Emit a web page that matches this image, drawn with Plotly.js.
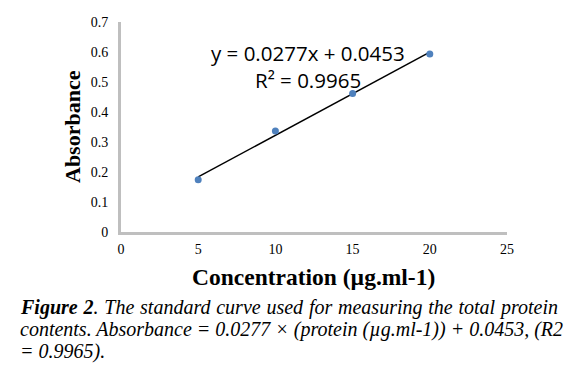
<!DOCTYPE html>
<html>
<head>
<meta charset="utf-8">
<script src="https://cdn.plot.ly/plotly-3.0.1.min.js"></script>
<style>html,body{margin:0;padding:0;background:#fff;}#chart{width:567px;height:371px;}</style>
</head>
<body>
<div id="chart"></div>
<script>
const concentration = [5, 10, 15, 20];
const absorbance = [0.174, 0.337, 0.462, 0.593];
const slope = 0.0277;
const intercept = 0.0453;
const trendX = [5, 20];
const trendY = trendX.map(x => slope * x + intercept);
const xTicks = [0, 5, 10, 15, 20, 25];
const yTicks = [0, 0.1, 0.2, 0.3, 0.4, 0.5, 0.6, 0.7];
const eqText = "y = 0.0277x + 0.0453";
const r2Text = "R² = 0.9965";
const xTitle = "Concentration (µg.ml-1)";
const yTitle = "Absorbance";
const captionLines = [
  "<b>Figure 2</b>. The standard curve used for measuring the total protein",
  "contents. Absorbance = 0.0277 × (protein (µg.ml-1)) + 0.0453, (R2",
  "= 0.9965)."
];

const SERIF = '"Liberation Serif"';
const L = 121, R = 507, T = 22, B = 232;
const px = v => (v - L) / (R - L);
const py = v => (B - v) / (B - T);

const traces = [
  {x: trendX, y: trendY, mode: 'lines', line: {color: '#000', width: 1.5}, hoverinfo: 'skip', showlegend: false},
  {x: concentration, y: absorbance, mode: 'markers', marker: {color: '#4f81bd', size: 7}, showlegend: false}
];

const ann = [
  {text: eqText, x: px(308), y: py(53), font: {family: 'Open Sans', size: 20.5, color: '#000'}},
  {text: r2Text, x: px(308), y: py(80), font: {family: 'Open Sans', size: 20.5, color: '#000'}},
  {text: '<b>' + xTitle + '</b>', x: px(313), y: py(277), font: {family: SERIF, size: 23.5, color: '#000'}},
  {text: '<b>' + yTitle + '</b>', x: px(72), y: py(127), textangle: -90, font: {family: SERIF, size: 22, color: '#000'}}
];
const capY = [307, 329, 351];
captionLines.forEach((t, i) => ann.push({
  text: '<i>' + t + '</i>', x: px(18), y: py(capY[i]), xanchor: 'left', align: 'left',
  font: {family: SERIF, size: 20, color: '#000'}
}));
ann.forEach(a => { a.xref = 'paper'; a.yref = 'paper'; a.showarrow = false; if (!a.xanchor) a.xanchor = 'center'; a.yanchor = 'middle'; });

const layout = {
  width: 567, height: 371,
  margin: {l: L, r: 567 - R, t: T, b: 371 - B, pad: 0},
  paper_bgcolor: '#fff', plot_bgcolor: '#fff',
  showlegend: false,
  xaxis: {range: [0, 25], tickvals: xTicks, ticktext: xTicks.map(String), showgrid: false, zeroline: false,
          showline: true, linecolor: '#bfbfbf', linewidth: 3, ticks: '', ticklen: 0, ticklabelstandoff: 2,
          tickfont: {family: SERIF, size: 14, color: '#000'}, fixedrange: true},
  yaxis: {range: [0, 0.7], tickvals: yTicks, ticktext: yTicks.map(String), showgrid: false, zeroline: false,
          showline: true, linecolor: '#bfbfbf', linewidth: 3, ticks: '', ticklen: 0, ticklabelstandoff: 7,
          tickfont: {family: SERIF, size: 14, color: '#000'}, fixedrange: true},
  annotations: ann
};
Plotly.newPlot('chart', traces, layout, {displayModeBar: false, staticPlot: true}).then(gd => {
  const texts = gd.querySelectorAll('.annotation-text');
  const capStart = 4, targetW = 537;
  for (let i = 0; i < 2; i++) {
    const t = texts[capStart + i];
    if (!t) continue;
    const w = t.getComputedTextLength();
    const n = (t.textContent.match(/ /g) || []).length;
    if (n > 0 && w < targetW) t.style.wordSpacing = ((targetW - w) / n) + 'px';
  }
});
</script>
</body>
</html>
